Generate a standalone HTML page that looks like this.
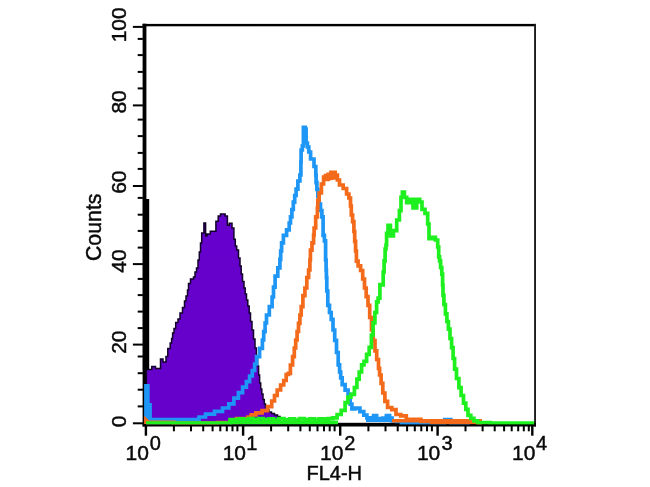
<!DOCTYPE html>
<html><head><meta charset="utf-8"><title>FL4-H histogram</title>
<style>html,body{margin:0;padding:0;background:#fff}svg{display:block;will-change:transform;opacity:.999}</style></head>
<body>
<svg width="650" height="487" viewBox="0 0 650 487">
<rect width="650" height="487" fill="#fff"/>
<g fill="#000">
<rect x="142.6" y="23.7" width="3.8" height="402.8"/>
<rect x="142.6" y="23.9" width="393.4" height="2.4"/>
<rect x="534.1" y="23.9" width="1.9" height="402.6" fill="#1c1c1c"/>
<rect x="142.6" y="422.8" width="393.4" height="3.7"/>
<rect x="132.9" y="25.9" width="10" height="2"/>
<rect x="132.9" y="104.4" width="10" height="2"/>
<rect x="132.9" y="185.0" width="10" height="2"/>
<rect x="132.9" y="263.1" width="10" height="2"/>
<rect x="132.9" y="343.6" width="10" height="2"/>
<rect x="132.9" y="422.3" width="10" height="2"/>
<rect x="137.7" y="37.9" width="5.2" height="2"/>
<rect x="137.7" y="54.1" width="5.2" height="2"/>
<rect x="137.7" y="70.9" width="5.2" height="2"/>
<rect x="137.7" y="87.4" width="5.2" height="2"/>
<rect x="137.7" y="118.6" width="5.2" height="2"/>
<rect x="137.7" y="135.1" width="5.2" height="2"/>
<rect x="137.7" y="151.9" width="5.2" height="2"/>
<rect x="137.7" y="167.9" width="5.2" height="2"/>
<rect x="137.7" y="196.9" width="5.2" height="2"/>
<rect x="137.7" y="213.7" width="5.2" height="2"/>
<rect x="137.7" y="229.9" width="5.2" height="2"/>
<rect x="137.7" y="246.6" width="5.2" height="2"/>
<rect x="137.7" y="277.9" width="5.2" height="2"/>
<rect x="137.7" y="294.1" width="5.2" height="2"/>
<rect x="137.7" y="310.6" width="5.2" height="2"/>
<rect x="137.7" y="327.1" width="5.2" height="2"/>
<rect x="137.7" y="355.5" width="5.2" height="2"/>
<rect x="137.7" y="372.2" width="5.2" height="2"/>
<rect x="137.7" y="388.7" width="5.2" height="2"/>
<rect x="137.7" y="405.4" width="5.2" height="2"/>
<rect x="144.7" y="425" width="2.4" height="10.7"/>
<rect x="241.9" y="425" width="2.4" height="10.7"/>
<rect x="339.0" y="425" width="2.4" height="10.7"/>
<rect x="436.4" y="425" width="2.4" height="10.7"/>
<rect x="531.1" y="425" width="2.4" height="10.7"/>
<rect x="172.9" y="425" width="2" height="6.3"/>
<rect x="190.0" y="425" width="2" height="6.3"/>
<rect x="202.2" y="425" width="2" height="6.3"/>
<rect x="211.6" y="425" width="2" height="6.3"/>
<rect x="219.3" y="425" width="2" height="6.3"/>
<rect x="225.8" y="425" width="2" height="6.3"/>
<rect x="231.5" y="425" width="2" height="6.3"/>
<rect x="236.4" y="425" width="2" height="6.3"/>
<rect x="270.1" y="425" width="2" height="6.3"/>
<rect x="287.2" y="425" width="2" height="6.3"/>
<rect x="299.4" y="425" width="2" height="6.3"/>
<rect x="308.8" y="425" width="2" height="6.3"/>
<rect x="316.5" y="425" width="2" height="6.3"/>
<rect x="323.0" y="425" width="2" height="6.3"/>
<rect x="328.7" y="425" width="2" height="6.3"/>
<rect x="333.6" y="425" width="2" height="6.3"/>
<rect x="367.4" y="425" width="2" height="6.3"/>
<rect x="384.5" y="425" width="2" height="6.3"/>
<rect x="396.7" y="425" width="2" height="6.3"/>
<rect x="406.1" y="425" width="2" height="6.3"/>
<rect x="413.8" y="425" width="2" height="6.3"/>
<rect x="420.3" y="425" width="2" height="6.3"/>
<rect x="426.0" y="425" width="2" height="6.3"/>
<rect x="430.9" y="425" width="2" height="6.3"/>
<rect x="464.5" y="425" width="2" height="6.3"/>
<rect x="481.6" y="425" width="2" height="6.3"/>
<rect x="493.7" y="425" width="2" height="6.3"/>
<rect x="503.1" y="425" width="2" height="6.3"/>
<rect x="510.7" y="425" width="2" height="6.3"/>
<rect x="517.2" y="425" width="2" height="6.3"/>
<rect x="522.8" y="425" width="2" height="6.3"/>
<rect x="527.8" y="425" width="2" height="6.3"/>
</g>
<clipPath id="plot"><rect x="142.6" y="26" width="391.6" height="398.6"/></clipPath>
<g clip-path="url(#plot)">
<path d="M146.4,424.5V369.5H151.8V366.5H155.5V368.5H160.5V359.0H163.0V362.0H166.0V356.5H167.8V348.5H170.2V343.0H171.6V338.5H172.6V333.0H174.0V328.5H175.7V322.5H178.0V319.0H180.0V313.0H182.5V307.5H184.5V301.0H186.0V296.0H187.5V290.0H188.5V283.5H190.5V279.0H193.5V277.0H195.0V272.0H196.5V268.0H198.0V260.0H199.3V252.0H200.5V243.0H201.7V233.0H203.9V223.0H205.6V236.0H207.0V234.0H210.3V231.3H215.9V221.2H218.2V216.1H220.5V214.0H225.1V216.1H227.4V225.3H229.3V223.3H232.0V228.1H233.9V239.2H235.3V246.0H236.7V250.0H238.5V258.0H240.0V266.0H241.2V274.0H242.5V281.5H244.0V288.0H245.2V294.0H246.5V300.0H247.8V306.0H249.2V313.0H250.5V321.5H252.0V330.0H253.5V339.0H255.0V348.0H256.4V357.5H257.6V366.0H258.6V375.0H259.6V383.0H260.7V389.0H261.8V394.0H263.0V399.5H264.3V404.0H265.5V407.5H267.0V410.0H269.0V412.0H271.5V413.6H274.5V415.0H277.5V416.5H280.0V423.0V424.5Z" fill="#6600cc" stroke="#12002a" stroke-width="1.5" stroke-linejoin="miter"/>
<rect x="142.6" y="199" width="6.6" height="171" fill="#000"/>
<path d="M144.1,384H149.7V403H151.9V421.5H144.1Z" fill="#1e96f5"/>
<path d="M149.7,419.7H173.3V419.7H197.0H199.0V417.0H201.0H205.5V414.2H210.0H214.5V411.4H219.0H222.5V408.0H226.0H228.8V403.8H231.5H233.9V398.2H236.4H238.4V392.7H240.5H242.6V387.2H244.7H246.4V381.6H248.2H249.6V376.0H251.0H252.3V370.5H253.6H254.6V364.0H255.6H256.6V356.7H257.5H259.6V348.3H261.7H262.4V340.0H263.0H263.7V331.7H264.4H265.1V323.0H265.8H266.5V315.0H267.2H269.3V306.7H271.4H272.1V297.0H272.8H273.5V287.2H274.2H275.1V276.1H276.1H277.8V267.8H279.5H279.9V259.4H280.2H280.7V251.0H281.2H281.6V242.8H282.0H283.4V235.4H284.8H286.6V229.8H288.5H289.2V223.0H289.9H290.5V216.9H291.2H291.9V209.5H292.6H293.3V202.2H294.0H294.7V195.5H295.4H296.1V189.2H296.8H297.9V181.0H299.0H299.9V175.0H300.8H300.9V162.0H301.0H301.1V150.0H301.2H302.3V146.0H303.4H303.4V127.3H303.4H303.9V127.3H304.4H305.2V129.2H306.0H306.1V143.0H306.2H307.4V147.0H308.6H308.8V152.0H309.0H310.6V159.0H312.3H314.0V166.5H315.6H315.8V175.0H316.0H316.1V182.6H316.3H316.9V189.4H317.4H317.9V196.5H318.5H319.1V204.0H319.8H320.5V210.5H321.2H321.9V216.9H322.6H323.1V235.4H323.5H324.4V240.9H325.4H325.6V260.0H325.8H326.1V270.0H326.3H326.4V277.5H326.5H326.8V291.0H327.0H327.8V305.4H328.6H329.5V312.5H330.3H331.2V319.4H332.1H333.0V330.0H333.8H334.7V340.3H335.6H336.5V352.5H337.3H338.2V364.8H339.1H339.6V372.0H340.2H340.7V377.8H341.2H342.2V384.7H343.3H345.1V390.2H346.8H348.1V394.4H349.5H350.2V404.1H350.9H351.9V408.9H353.0H355.4V408.2H357.9H359.9V411.7H362.0H363.8V415.2H365.5H366.9V417.9H368.2H370.1V419.5H372.0H373.6V415.5H375.2H376.6V418.5H378.0H379.5V419.5H381.0H382.8V418.0H384.5H386.4V415.5H388.3H389.6V418.0H391.0H392.1V421.0H393.2H396.6V421.5H400.0H401.5V423.0H403.0H423.8V423.0H444.5H444.8V419.6H445.0H447.8V419.6H450.5H450.8V423.0H451.0H460.5V423.0H470.0" fill="none" stroke="#1e96f5" stroke-width="3.7" stroke-linejoin="miter"/>
<path d="M366,420.4H393" fill="none" stroke="#1e96f5" stroke-width="3.2"/>
<path d="M144.1,415.5L150.5,422V424H144.1Z" fill="#f36a1a"/>
<path d="M392,420.8H482" fill="none" stroke="#f36a1a" stroke-width="3.4"/>
<path d="M147.3,422.3H173.7V423.0H200.0H217.5V422.5H235.0H236.5V418.5H238.0H240.3V418.5H242.6H244.3V421.0H246.0H248.0V417.2H250.0H251.2V414.9H252.3H255.8V412.8H259.3H262.1V410.7H264.8H267.6V406.6H270.3H271.7V401.0H273.1H274.5V395.5H275.9H277.2V390.0H278.6H280.6V385.0H282.5H283.7V380.5H284.9H286.2V374.5H287.5H288.4V373.3H289.4H290.4V365.0H291.5H292.6V356.7H293.6H294.3V348.0H295.0H295.7V340.0H296.4H297.1V331.5H297.8H298.5V323.3H299.2H299.9V315.0H300.5H301.2V306.7H301.9H302.9V295.6H303.9H304.9V288.0H305.9H306.8V277.5H307.6H308.6V270.0H309.7H309.9V260.0H310.2H310.4V250.2H310.6H312.0V242.8H313.4H313.6V235.0H313.9H314.1V228.0H314.3H315.7V216.9H317.1H317.4V208.0H317.6H317.8V200.3H318.0H319.1V193.0H320.3H321.4V184.0H322.5H323.6V177.0H324.6H325.5V175.5H326.3H326.9V179.5H327.5H328.1V174.3H328.8H329.6V178.5H330.3H331.0V172.4H331.6H332.4V178.0H333.1H333.9V172.4H334.6H335.2V177.5H335.8H336.3V175.0H336.8H337.4V180.0H338.0H339.5V185.0H341.0H343.2V188.5H345.5H346.6V194.0H347.8H348.9V198.0H350.0H350.5V206.0H351.0H351.3V215.0H351.6H352.6V221.7H353.5H353.9V231.5H354.3H354.7V241.4H355.1H355.6V251.0H356.0H356.4V261.1H356.8H358.1V265.8H359.3H360.6V270.5H361.8H362.7V279.0H363.6H364.5V288.0H365.3H366.2V296.7H367.1H368.0V305.4H368.8H369.7V317.5H370.6H371.5V329.9H372.3H373.2V340.5H374.1H375.0V350.8H375.8H376.7V359.5H377.6H378.5V368.3H379.3H379.6V375.0H380.0H381.1V383.3H382.1H382.8V393.0H383.5H384.9V401.3H386.2H387.6V407.5H389.0H391.8V409.6H394.6H396.0V414.5H397.3H400.8V415.9H404.2H406.3V419.3H408.4H413.2V419.3H418.1H420.9V421.4H423.6H431.8V422.3H440.0H457.5V422.5H475.0H478.5V423.0H482.0" fill="none" stroke="#f36a1a" stroke-width="3.7" stroke-linejoin="miter"/>
<path d="M230,422.5H338" fill="none" stroke="#1eef1e" stroke-width="3.8"/>
<path d="M146.0,423.0H173.0V423.0H200.0H214.5V423.0H229.0H230.0V419.6H231.0H234.0V419.6H237.0H239.0V418.8H241.0H243.5V419.9H246.0H248.5V418.7H251.0H253.5V419.8H256.0H258.5V418.6H261.0H263.5V419.9H266.0H268.5V418.8H271.0H273.5V420.0H276.0H278.5V418.7H281.0H284.0V419.9H287.0H289.5V418.8H292.0H294.5V420.0H297.0H299.5V418.7H302.0H304.5V419.9H307.0H309.5V418.8H312.0H314.5V420.0H317.0H319.0V418.8H321.0H323.5V419.2H326.0H328.1V418.6H330.3H332.6V417.9H335.0H337.1V414.5H339.2H341.2V410.3H343.3H345.1V402.7H346.8H347.9V397.2H348.9H350.9V394.4H353.0H354.4V387.5H355.8H356.9V379.2H357.9H359.2V372.0H360.6H361.6V364.8H362.7H364.0V361.3H365.3H366.6V354.3H367.9H369.2V347.3H370.5H371.4V335.0H372.3H373.1V322.9H374.0H374.9V312.5H375.8H376.6V301.9H377.5H378.1V298.2H378.7H379.9V284.5H381.0H381.9V284.9H382.7H383.2V272.0H383.7H384.1V260.8H384.6H385.1V249.0H385.6H386.0V245.0H386.3H386.6V233.4H387.0H388.0V225.4H389.0H390.4V236.0H391.7H393.4V230.7H395.0H396.7V220.0H398.4H399.4V210.7H400.4H401.0V197.4H401.7H402.4V192.0H403.0H404.4V197.4H405.7H406.7V202.7H407.7H409.4V199.4H411.0H413.0V208.0H415.0H416.7V199.4H418.4H419.7V202.0H421.0H422.0V209.4H423.0H425.0V213.4H427.0H427.7V224.0H428.4H429.0V238.7H429.7H431.7V237.4H433.7H435.4V240.0H437.0H437.7V247.0H438.4H438.7V256.8H439.0H439.6V260.8H440.1H440.6V267.5H441.2H441.8V274.2H442.3H442.6V285.0H442.8H443.0V295.4H443.1H443.9V304.5H444.6H445.4V313.8H446.2H446.9V321.5H447.7H448.4V329.2H449.2H450.0V338.5H450.8H451.6V347.7H452.3H453.1V358.5H453.9H454.6V369.2H455.4H456.5V378.5H457.7H458.9V387.7H460.0H461.1V395.5H462.3H463.5V403.1H464.6H465.8V409.3H466.9H468.0V415.4H469.2H470.8V418.3H472.3H473.9V420.9H475.4H477.7V422.7H480.0H490.0V423.0H500.0H517.1V423.0H534.3" fill="none" stroke="#1eef1e" stroke-width="3.7" stroke-linejoin="miter"/>
</g>
<g font-family="Liberation Sans, Arial, Helvetica, sans-serif" fill="#0a0a0a" stroke="#0a0a0a" stroke-width="0.45">
<text transform="translate(125.6,24.8) rotate(-90)" font-size="21" text-anchor="middle">100</text>
<text transform="translate(125.6,101.9) rotate(-90)" font-size="21" text-anchor="middle">80</text>
<text transform="translate(125.6,182.2) rotate(-90)" font-size="21" text-anchor="middle">60</text>
<text transform="translate(125.6,261.1) rotate(-90)" font-size="21" text-anchor="middle">40</text>
<text transform="translate(125.6,342.2) rotate(-90)" font-size="21" text-anchor="middle">20</text>
<text transform="translate(125.6,421.4) rotate(-90)" font-size="21" text-anchor="middle">0</text>
<text transform="translate(101.3,227.3) rotate(-90)" font-size="21.3" text-anchor="middle">Counts</text>
<text x="125.6" y="459.7" font-size="21">10</text>
<text x="149.7" y="450.4" font-size="20">0</text>
<text x="222.7" y="459.7" font-size="21">10</text>
<text x="246.3" y="450.4" font-size="20">1</text>
<text x="320.0" y="459.7" font-size="21">10</text>
<text x="344.2" y="450.4" font-size="20">2</text>
<text x="416.9" y="459.7" font-size="21">10</text>
<text x="441.5" y="450.4" font-size="20">3</text>
<text x="512.0" y="459.7" font-size="21">10</text>
<text x="536.1" y="450.4" font-size="20">4</text>
<text x="334.3" y="480.2" font-size="20" text-anchor="middle">FL4-H</text>
</g>
</svg>
</body></html>
